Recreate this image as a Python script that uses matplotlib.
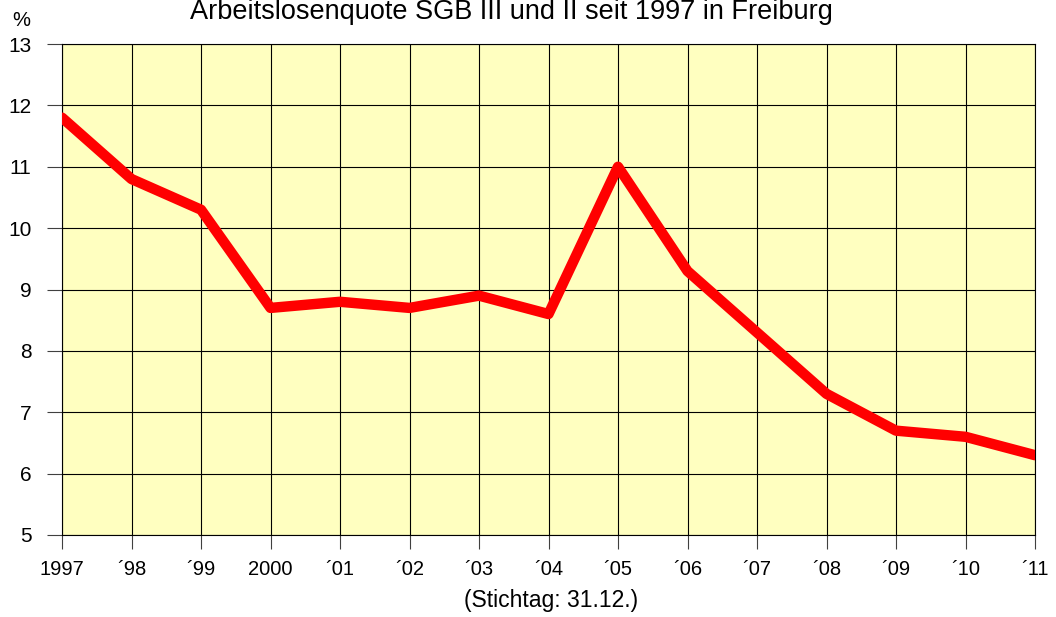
import matplotlib.pyplot as plt

plt.rcParams['font.family'] = ['Liberation Sans', 'DejaVu Sans']

years = list(range(1997, 2012))
labels = ['1997', '´98', '´99', '2000', '´01', '´02', '´03', '´04',
          '´05', '´06', '´07', '´08', '´09', '´10', '´11']
quote = [11.8, 10.8, 10.3, 8.7, 8.8, 8.7, 8.9, 8.6,
         11.0, 9.3, 8.3, 7.3, 6.7, 6.6, 6.3]

fig = plt.figure(figsize=(10.56, 6.17), dpi=100)
ax = fig.add_axes([62 / 1056, 1 - 535 / 617, 973 / 1056, 491 / 617])
ax.set_facecolor('#FFFFC0')

ax.plot(years, quote, color='#FF0000', linewidth=7.5,
        solid_capstyle='round', solid_joinstyle='round', zorder=3)

ax.set_xlim(1997, 2011)
ax.set_ylim(5, 13)
ax.set_xticks(years)
ax.set_xticklabels(labels)
ax.set_yticks(range(5, 14))
ax.grid(True, color='black', linewidth=0.8)
for s in ax.spines.values():
    s.set_linewidth(0.8)
ax.tick_params(axis='x', direction='out', length=10, width=0.8,
               labelsize=14.5, pad=8, color='#404040')
ax.tick_params(axis='y', direction='out', length=11, width=0.8,
               labelsize=15, pad=11, color='#404040')
for lbl in ax.get_xticklabels():
    lbl.set_clip_on(False)

# title sits at the very top edge, as in the reference
fig.text(511 / 1056, 1 - 19 / 617, 'Arbeitslosenquote SGB III und II seit 1997 in Freiburg',
         ha='center', va='baseline', fontsize=19.5)
fig.text(21 / 1056, 1 - 26 / 617, '%', ha='center', va='baseline', fontsize=14.5)
fig.text(551 / 1056, 1 - 600 / 617, '(Stichtag: 31.12.)', ha='center', va='center', fontsize=16.5)

fig.savefig('out.png', dpi=100)
